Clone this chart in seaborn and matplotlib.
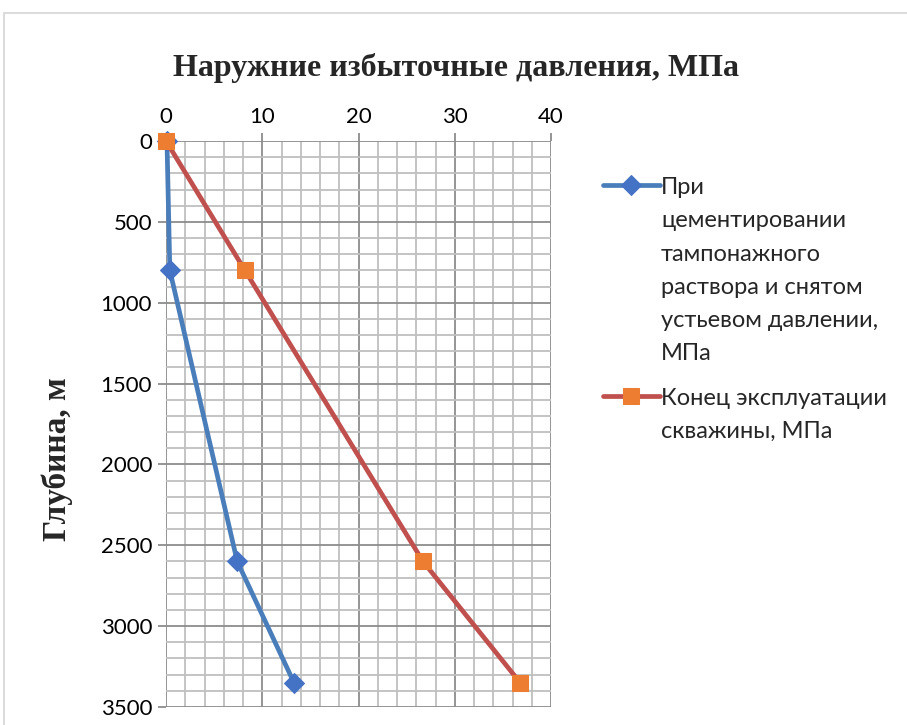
import matplotlib
matplotlib.use("Agg")
import matplotlib.pyplot as plt
from matplotlib.patches import Rectangle
from matplotlib.ticker import MultipleLocator
import pandas as pd
import seaborn as sns

# Depth of the casing string, m
depth = [0, 800, 2600, 3350]
# External overpressure during cementing with wellhead pressure released, MPa
p_cementing = [0.1, 0.4, 7.4, 13.3]
# External overpressure at the end of well operation, MPa
p_end = [0.0, 8.2, 26.7, 36.8]

x_ticks = [0, 10, 20, 30, 40]
y_ticks = [0, 500, 1000, 1500, 2000, 2500, 3000, 3500]

label_cem = ("При\nцементировании\nтампонажного\nраствора и снятом\n"
             "устьевом давлении,\nМПа")
label_end = "Конец эксплуатации\nскважины, МПа"
title = "Наружние избыточные давления, МПа"
ylabel = "Глубина, м"

sns.set_theme(style="white")
sans = ["Lato", "DejaVu Sans"]
serif = ["Liberation Serif", "DejaVu Serif"]
plt.rcParams["font.family"] = sans

W, H = 907, 725
fig = plt.figure(figsize=(W / 100, H / 100), dpi=100)
ax = fig.add_axes([166 / W, 1 - 707 / H, (551 - 166) / W, (707 - 141) / H])

df_cem = pd.DataFrame({"p": p_cementing, "d": depth})
df_end = pd.DataFrame({"p": p_end, "d": depth})

sns.lineplot(data=df_cem, x="p", y="d", sort=False, ax=ax, color="#4A7EBB",
             linewidth=3.4, marker="D", markersize=10,
             markerfacecolor="#4472C4", markeredgecolor="#4472C4",
             label=label_cem, zorder=5, clip_on=False)
sns.lineplot(data=df_end, x="p", y="d", sort=False, ax=ax, color="#C0504D",
             linewidth=3.4, marker="s", markersize=12,
             markerfacecolor="#ED7D31", markeredgecolor="#ED7D31",
             label=label_end, zorder=6, clip_on=False)

ax.set_xlim(0, 40)
ax.set_ylim(3500, 0)
ax.set_xticks(x_ticks)
ax.set_yticks(y_ticks)
ax.xaxis.set_minor_locator(MultipleLocator(2))
ax.yaxis.set_minor_locator(MultipleLocator(100))
ax.xaxis.tick_top()
ax.xaxis.set_label_position("top")

ax.grid(which="major", color="#8C8C8C", linewidth=1.3)
ax.grid(which="minor", color="#BFBFBF", linewidth=1.3)
ax.set_axisbelow(True)
for s in ax.spines.values():
    s.set_visible(False)
ax.tick_params(which="major", length=6, width=1.3, color="#8C8C8C",
               labelsize=16, pad=4, top=True, left=True, bottom=False)
ax.tick_params(which="minor", length=0)
for lab in ax.get_xticklabels() + ax.get_yticklabels():
    lab.set_color("#000000")

ax.set_xlabel("")
ax.set_ylabel("")
fig.text(57 / W, 1 - 459 / H, ylabel, fontsize=24, fontweight="bold",
         family=serif, rotation=90, ha="center", va="center")
fig.text(0.5 * (175 + 737) / W, 1 - 68 / H, title, fontsize=23,
         fontweight="bold", family=serif, ha="center", va="center")

leg = ax.legend(loc="upper left", bbox_to_anchor=(596 / W, 1 - 170 / H),
                bbox_transform=fig.transFigure, frameon=False, fontsize=17,
                handlelength=2.4, handletextpad=0.05, labelspacing=1.0,
                borderaxespad=0, borderpad=0.3)
# put each legend key next to the first line of its label
for column in leg._legend_handle_box.get_children():
    for item in column.get_children():
        item.align = "top"
for t in leg.get_texts():
    t.set_linespacing(1.72)
for line in leg.get_lines():
    line.set_solid_capstyle("round")

fig.patches.append(Rectangle((4 / W, -0.05), 1.1, 1 - 13 / H + 0.05,
                             transform=fig.transFigure, fill=False,
                             edgecolor="#D9D9D9", linewidth=1.3))

fig.savefig("out.png", dpi=100)
